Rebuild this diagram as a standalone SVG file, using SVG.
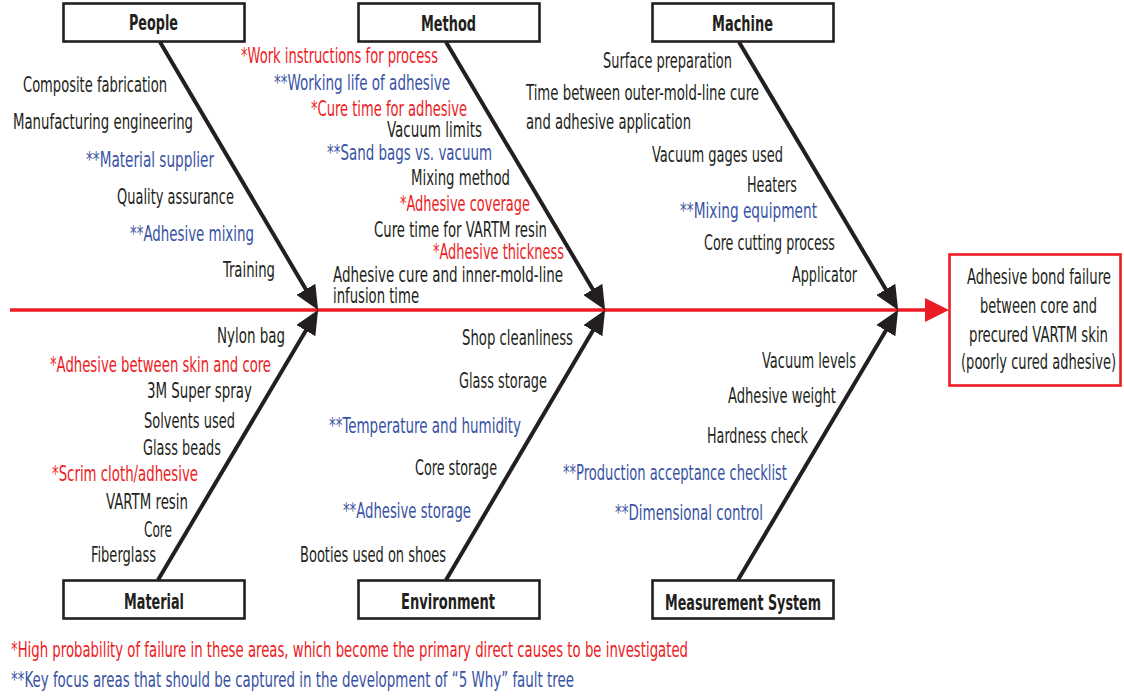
<svg xmlns="http://www.w3.org/2000/svg" width="1124" height="698" viewBox="0 0 1124 698">
<style>
text{font-family:"Liberation Sans Narrow","DejaVu Sans Condensed","Liberation Sans",Arial,sans-serif;font-size:22px;fill:#231f20}
.r{fill:#ed1c24}
.b{fill:#3953a4}
.h{font-weight:bold;font-size:22px}
.box{fill:#fff;stroke:#231f20;stroke-width:2.6}
.eff{fill:#fff;stroke:#ed1c24;stroke-width:2.6}
.bone{stroke:#231f20;stroke-width:4;fill:none}
.spine{stroke:#ed1c24;stroke-width:3.5;fill:none}
</style>
<defs>
<marker id="ah" viewBox="0 0 24 22" refX="14" refY="11" markerWidth="24" markerHeight="22" markerUnits="userSpaceOnUse" orient="auto">
<path d="M0,0 L24,11 L0,22 Z" fill="#231f20"/>
</marker>
<marker id="ahr" viewBox="0 0 24 24" refX="10" refY="12" markerWidth="24" markerHeight="24" markerUnits="userSpaceOnUse" orient="auto">
<path d="M0,0 L24,12 L0,24 Z" fill="#ed1c24"/>
</marker>
</defs>
<rect width="1124" height="698" fill="#fff"/>
<g id="connectors">
<line class="spine" x1="10" y1="310" x2="935" y2="310" marker-end="url(#ahr)"/>
<line class="bone" x1="160" y1="42" x2="313" y2="301.4" marker-end="url(#ah)"/>
<line class="bone" x1="158" y1="580" x2="313" y2="318.6" marker-end="url(#ah)"/>
<line class="bone" x1="446" y1="42" x2="600" y2="301.4" marker-end="url(#ah)"/>
<line class="bone" x1="446" y1="580" x2="600" y2="318.6" marker-end="url(#ah)"/>
<line class="bone" x1="739" y1="42" x2="893" y2="301.4" marker-end="url(#ah)"/>
<line class="bone" x1="738" y1="580" x2="893" y2="318.6" marker-end="url(#ah)"/>
</g>
<g id="people">
<rect class="box" x="63.5" y="3.5" width="181" height="38"/>
<text class="h" x="129" y="30" textLength="49" lengthAdjust="spacingAndGlyphs">People</text>
<text x="23" y="92" textLength="144" lengthAdjust="spacingAndGlyphs">Composite fabrication</text>
<text x="13" y="129" textLength="180" lengthAdjust="spacingAndGlyphs">Manufacturing engineering</text>
<text class="b" x="86" y="167" textLength="128" lengthAdjust="spacingAndGlyphs">**Material supplier</text>
<text x="117" y="204" textLength="117" lengthAdjust="spacingAndGlyphs">Quality assurance</text>
<text class="b" x="130" y="241" textLength="124" lengthAdjust="spacingAndGlyphs">**Adhesive mixing</text>
<text x="223" y="277" textLength="52" lengthAdjust="spacingAndGlyphs">Training</text>
</g>
<g id="method">
<rect class="box" x="358.5" y="3.5" width="181" height="38"/>
<text class="h" x="421" y="31" textLength="55" lengthAdjust="spacingAndGlyphs">Method</text>
<text class="r" x="241" y="63" textLength="197" lengthAdjust="spacingAndGlyphs">*Work instructions for process</text>
<text class="b" x="274" y="90" textLength="176" lengthAdjust="spacingAndGlyphs">**Working life of adhesive</text>
<text class="r" x="311" y="116" textLength="156" lengthAdjust="spacingAndGlyphs">*Cure time for adhesive</text>
<text x="387" y="137" textLength="95" lengthAdjust="spacingAndGlyphs">Vacuum limits</text>
<text class="b" x="327" y="160" textLength="165" lengthAdjust="spacingAndGlyphs">**Sand bags vs. vacuum</text>
<text x="411" y="185" textLength="99" lengthAdjust="spacingAndGlyphs">Mixing method</text>
<text class="r" x="400" y="211" textLength="130" lengthAdjust="spacingAndGlyphs">*Adhesive coverage</text>
<text x="374" y="237" textLength="173" lengthAdjust="spacingAndGlyphs">Cure time for VARTM resin</text>
<text class="r" x="433" y="259" textLength="131" lengthAdjust="spacingAndGlyphs">*Adhesive thickness</text>
<text x="333" y="282" textLength="230" lengthAdjust="spacingAndGlyphs">Adhesive cure and inner-mold-line</text>
<text x="333" y="303" textLength="86" lengthAdjust="spacingAndGlyphs">infusion time</text>
</g>
<g id="machine">
<rect class="box" x="652.5" y="3.5" width="181" height="38"/>
<text class="h" x="712" y="31" textLength="61" lengthAdjust="spacingAndGlyphs">Machine</text>
<text x="603" y="68" textLength="129" lengthAdjust="spacingAndGlyphs">Surface preparation</text>
<text x="526" y="100" textLength="233" lengthAdjust="spacingAndGlyphs">Time between outer-mold-line cure</text>
<text x="526" y="129" textLength="165" lengthAdjust="spacingAndGlyphs">and adhesive application</text>
<text x="652" y="162" textLength="131" lengthAdjust="spacingAndGlyphs">Vacuum gages used</text>
<text x="747" y="192" textLength="50" lengthAdjust="spacingAndGlyphs">Heaters</text>
<text class="b" x="680" y="218" textLength="137" lengthAdjust="spacingAndGlyphs">**Mixing equipment</text>
<text x="704" y="250" textLength="131" lengthAdjust="spacingAndGlyphs">Core cutting process</text>
<text x="792" y="282" textLength="65" lengthAdjust="spacingAndGlyphs">Applicator</text>
</g>
<g id="material">
<rect class="box" x="63.5" y="580.5" width="181" height="38"/>
<text class="h" x="124" y="609" textLength="60" lengthAdjust="spacingAndGlyphs">Material</text>
<text x="217" y="343" textLength="68" lengthAdjust="spacingAndGlyphs">Nylon bag</text>
<text class="r" x="50" y="372" textLength="221" lengthAdjust="spacingAndGlyphs">*Adhesive between skin and core</text>
<text x="147" y="398" textLength="105" lengthAdjust="spacingAndGlyphs">3M Super spray</text>
<text x="144" y="428" textLength="91" lengthAdjust="spacingAndGlyphs">Solvents used</text>
<text x="143" y="455" textLength="78" lengthAdjust="spacingAndGlyphs">Glass beads</text>
<text class="r" x="52" y="481" textLength="146" lengthAdjust="spacingAndGlyphs">*Scrim cloth/adhesive</text>
<text x="106" y="509" textLength="82" lengthAdjust="spacingAndGlyphs">VARTM resin</text>
<text x="144" y="537" textLength="28" lengthAdjust="spacingAndGlyphs">Core</text>
<text x="91" y="562" textLength="65" lengthAdjust="spacingAndGlyphs">Fiberglass</text>
</g>
<g id="environment">
<rect class="box" x="358.5" y="580.5" width="181" height="38"/>
<text class="h" x="401" y="609" textLength="94" lengthAdjust="spacingAndGlyphs">Environment</text>
<text x="462" y="345" textLength="111" lengthAdjust="spacingAndGlyphs">Shop cleanliness</text>
<text x="459" y="388" textLength="88" lengthAdjust="spacingAndGlyphs">Glass storage</text>
<text class="b" x="329" y="433" textLength="192" lengthAdjust="spacingAndGlyphs">**Temperature and humidity</text>
<text x="415" y="475" textLength="82" lengthAdjust="spacingAndGlyphs">Core storage</text>
<text class="b" x="343" y="518" textLength="128" lengthAdjust="spacingAndGlyphs">**Adhesive storage</text>
<text x="300" y="562" textLength="146" lengthAdjust="spacingAndGlyphs">Booties used on shoes</text>
</g>
<g id="measurement">
<rect class="box" x="652.5" y="580.5" width="181" height="38"/>
<text class="h" x="665" y="610" textLength="156" lengthAdjust="spacingAndGlyphs">Measurement System</text>
<text x="762" y="368" textLength="94" lengthAdjust="spacingAndGlyphs">Vacuum levels</text>
<text x="728" y="403" textLength="108" lengthAdjust="spacingAndGlyphs">Adhesive weight</text>
<text x="707" y="443" textLength="101" lengthAdjust="spacingAndGlyphs">Hardness check</text>
<text class="b" x="563" y="480" textLength="224" lengthAdjust="spacingAndGlyphs">**Production acceptance checklist</text>
<text class="b" x="615" y="520" textLength="148" lengthAdjust="spacingAndGlyphs">**Dimensional control</text>
</g>
<g id="effect">
<rect class="eff" x="949.5" y="254.5" width="171" height="131"/>
<text x="967" y="284" textLength="144" lengthAdjust="spacingAndGlyphs">Adhesive bond failure</text>
<text x="980" y="313" textLength="117" lengthAdjust="spacingAndGlyphs">between core and</text>
<text x="969" y="342" textLength="139" lengthAdjust="spacingAndGlyphs">precured VARTM skin</text>
<text x="961" y="369" textLength="155" lengthAdjust="spacingAndGlyphs">(poorly cured adhesive)</text>
</g>
<g id="legend">
<text class="r" x="11" y="657" textLength="677" lengthAdjust="spacingAndGlyphs">*High probability of failure in these areas, which become the primary direct causes to be investigated</text>
<text class="b" x="11" y="687" textLength="563" lengthAdjust="spacingAndGlyphs">**Key focus areas that should be captured in the development of “5 Why” fault tree</text>
</g>
</svg>
